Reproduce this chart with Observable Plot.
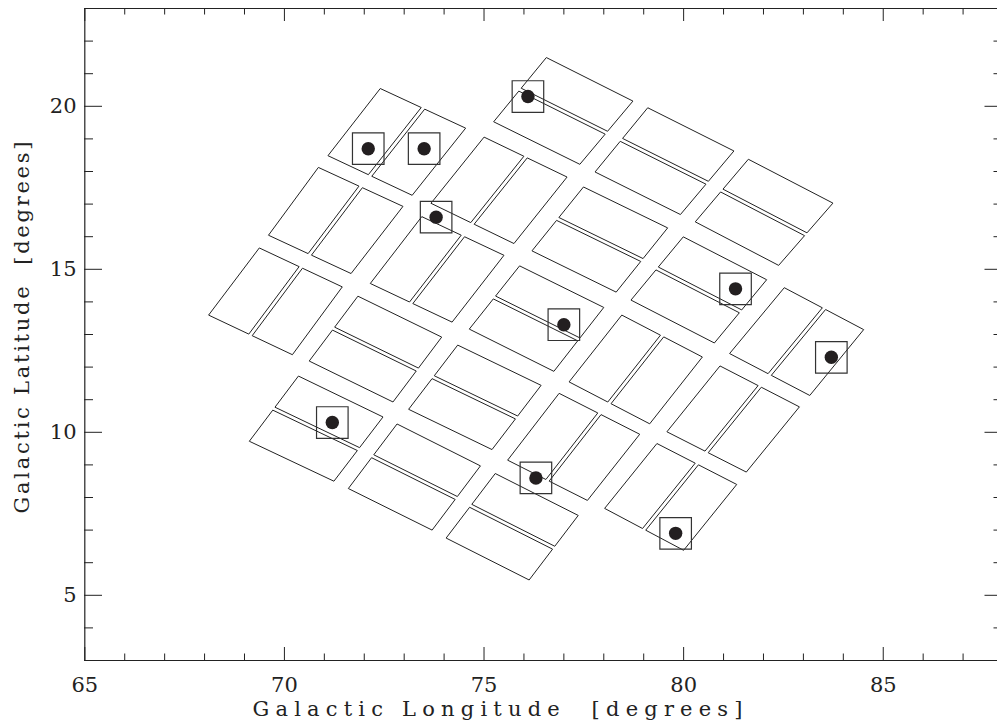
<!DOCTYPE html>
<html>
<head>
<meta charset="utf-8">
<script src="https://cdn.jsdelivr.net/npm/d3@7"></script>
<script src="https://cdn.jsdelivr.net/npm/@observablehq/plot@0.6"></script>
<style>
  body { margin: 0; background: #fff; }
  #chart svg text { white-space: pre; }
</style>
</head>
<body>
<div id="chart"></div>
<script>
// ---- Data (galactic lon / lat, degrees) ----
// Module corners in order: top, right, bottom, left
const moduleSplit = ["H","H","H", "V","V","H","H","V", "V","V","H","V","V", "V","H","H","V","V", "H","H","H"];
const cornerLon = [
  [76.57, 78.73, 77.40, 75.25],
  [79.11, 81.26, 79.92, 77.79],
  [81.63, 83.74, 82.38, 80.30],
  [72.41, 74.54, 73.20, 71.10],
  [75.01, 77.08, 75.75, 73.68],
  [77.50, 79.60, 78.31, 76.21],
  [80.00, 82.08, 80.77, 78.69],
  [82.53, 84.51, 83.16, 81.16],
  [70.86, 72.97, 71.67, 69.61],
  [73.45, 75.50, 74.20, 72.16],
  [75.90, 78.00, 76.75, 74.64],
  [78.46, 80.47, 79.15, 77.14],
  [80.92, 82.90, 81.57, 79.59],
  [69.38, 71.45, 70.20, 68.11],
  [71.85, 73.94, 72.72, 70.63],
  [74.35, 76.43, 75.20, 73.12],
  [76.89, 78.90, 77.59, 75.60],
  [79.34, 81.33, 80.00, 78.03],
  [70.36, 72.47, 71.24, 69.13],
  [72.83, 74.91, 73.70, 71.61],
  [75.29, 77.36, 76.13, 74.06]
];
const cornerLat = [
  [21.49, 20.16, 18.22, 19.52],
  [19.95, 18.63, 16.68, 17.98],
  [18.37, 17.03, 15.12, 16.45],
  [20.54, 19.33, 17.27, 18.48],
  [19.05, 17.83, 15.79, 17.02],
  [17.52, 16.27, 14.30, 15.56],
  [15.99, 14.68, 12.74, 14.05],
  [14.43, 13.15, 11.13, 12.41],
  [18.12, 16.93, 14.87, 16.04],
  [16.61, 15.43, 13.38, 14.56],
  [15.10, 13.83, 11.87, 13.16],
  [13.59, 12.31, 10.26, 11.54],
  [12.03, 10.78, 8.78, 10.01],
  [15.65, 14.46, 12.38, 13.59],
  [14.17, 12.92, 10.93, 12.18],
  [12.67, 11.44, 9.47, 10.70],
  [11.19, 9.94, 7.91, 9.14],
  [9.65, 8.40, 6.38, 7.66],
  [11.72, 10.47, 8.50, 9.72],
  [10.25, 8.97, 7.00, 8.27],
  [8.73, 7.45, 5.47, 6.75]
];
const starLon = [72.1, 73.5, 76.1, 73.8, 77.0, 81.3, 83.7, 71.2, 76.3, 79.8];
const starLat = [18.7, 18.7, 20.3, 16.6, 13.3, 14.4, 12.3, 10.3, 8.6, 6.9];

const xMajor = [65, 70, 75, 80, 85];
const xMinor = [66, 67, 68, 69, 71, 72, 73, 74, 76, 77, 78, 79, 81, 82, 83, 84, 86, 87];
const yMajor = [5, 10, 15, 20];
const yMinor = [4, 6, 7, 8, 9, 11, 12, 13, 14, 16, 17, 18, 19, 21, 22];
const xTitle = "Galactic Longitude  [degrees]";
const yTitle = "Galactic Latitude  [degrees]";

// ---- Build CCD outlines (each module split into two CCDs with a small gap) ----
const gap = 0.045;
const a = 0.5 - gap / 2, b = 0.5 + gap / 2;
const lerp = (p, q, t) => [p[0] + (q[0] - p[0]) * t, p[1] + (q[1] - p[1]) * t];
const ccdRows = [];
moduleSplit.forEach((s, m) => {
  const P = [0, 1, 2, 3].map(k => [cornerLon[m][k], cornerLat[m][k]]);
  let ccds;
  if (s === "V") {
    ccds = [
      [P[0], lerp(P[0], P[1], a), lerp(P[3], P[2], a), P[3]],
      [lerp(P[0], P[1], b), P[1], P[2], lerp(P[3], P[2], b)]
    ];
  } else {
    ccds = [
      [P[0], P[1], lerp(P[1], P[2], a), lerp(P[0], P[3], a)],
      [lerp(P[0], P[3], b), lerp(P[1], P[2], b), P[2], P[3]]
    ];
  }
  ccds.forEach((c, k) => c.forEach(v => ccdRows.push({ccd: m * 2 + k, lon: v[0], lat: v[1]})));
});
const stars = starLon.map((l, i) => ({lon: l, lat: starLat[i]}));

const W = 997, H = 726, mL = 84, mR = 0, mT = 8, mB = 66;
const fw = W - mL - mR, fh = H - mT - mB;
const font = "DejaVu Serif";
const ink = "#222";

const chart = Plot.plot({
  width: W, height: H,
  marginLeft: mL, marginRight: mR, marginTop: mT, marginBottom: mB,
  x: {domain: [65, 88], range: [84.3, 1002.5], axis: null},
  y: {domain: [3, 23], axis: null},
  style: {fontFamily: font, fontSize: "21px", background: "#fff", color: ink},
  marks: [
    // CCD outlines
    Plot.line(ccdRows, {x: "lon", y: "lat", z: "ccd", curve: "linear-closed", stroke: ink, strokeWidth: 1}),
    // stars
    Plot.dot(stars, {x: "lon", y: "lat", symbol: "square", r: 17.8, stroke: "#333", strokeWidth: 1.2, fill: "none"}),
    Plot.dot(stars, {x: "lon", y: "lat", r: 6.7, fill: "#231f20", stroke: "none"}),
    // frame lines
    Plot.ruleX([65], {stroke: ink, strokeWidth: 1.2}),
    Plot.ruleY([3, 23], {stroke: ink, strokeWidth: 1.2}),
    // ticks bottom / top
    Plot.ruleX(xMajor, {insetTop: fh - 13, stroke: ink}),
    Plot.ruleX(xMinor, {insetTop: fh - 6.5, stroke: ink}),
    Plot.ruleX(xMajor, {insetBottom: fh - 13, stroke: ink}),
    Plot.ruleX(xMinor, {insetBottom: fh - 6.5, stroke: ink}),
    // ticks left / right
    Plot.ruleY(yMajor, {insetRight: fw - 18, stroke: ink}),
    Plot.ruleY(yMinor, {insetRight: fw - 9, stroke: ink}),
    Plot.ruleY(yMajor, {insetLeft: 900.5, stroke: ink}),
    Plot.ruleY(yMinor, {insetLeft: 909.5, stroke: ink}),
    // tick labels
    Plot.text(xMajor, {x: d => d, frameAnchor: "bottom", lineAnchor: "top", dy: 17, text: d => String(d), fill: ink}),
    Plot.text(yMajor, {y: d => d, frameAnchor: "left", textAnchor: "end", dx: -8, text: d => String(d), fill: ink}),
    // axis titles
    Plot.text([xTitle], {frameAnchor: "bottom", textAnchor: "middle", dx: -43.5, dy: 49, lineAnchor: "middle", text: d => d, fill: ink}),
    Plot.text([yTitle], {frameAnchor: "left", textAnchor: "middle", dx: -62, dy: -7, rotate: -90, lineAnchor: "middle", text: d => d, fill: ink})
  ]
});
document.getElementById("chart").appendChild(chart);
d3.select(chart).selectAll("text").each(function() {
  const t = this.textContent;
  if (t === xTitle) d3.select(this).attr("textLength", 490).attr("lengthAdjust", "spacing");
  if (t === yTitle) d3.select(this).attr("textLength", 372).attr("lengthAdjust", "spacing");
});
</script>
</body>
</html>
